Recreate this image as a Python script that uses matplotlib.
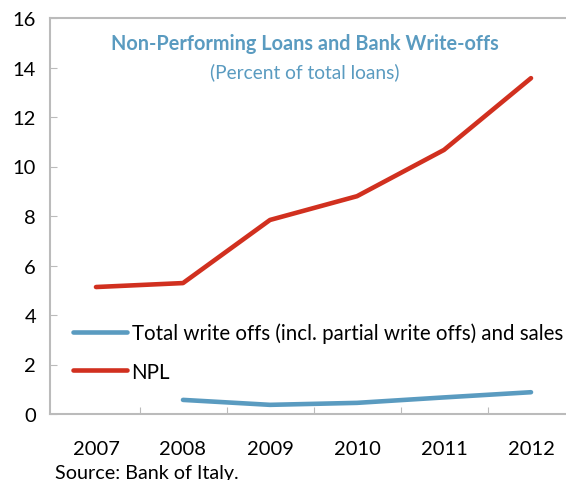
import matplotlib
matplotlib.use("Agg")
import matplotlib.pyplot as plt

years = ["2007", "2008", "2009", "2010", "2011", "2012"]
npl = [5.13, 5.29, 7.84, 8.8, 10.67, 13.57]
writeoff_years = ["2008", "2009", "2010", "2011", "2012"]
writeoffs = [0.57, 0.37, 0.45, 0.67, 0.88]

plt.rcParams['font.family'] = ['Lato', 'DejaVu Sans']

W, H = 566, 481
fig = plt.figure(figsize=(W/100, H/100), dpi=100)
left, right, top, bottom = 50, 566, 19, 415
spacing = 87.0
ax = fig.add_axes([left/W, 1 - bottom/H, (right-left)/W, (bottom-top)/H])

xi = list(range(len(years)))
wx = [years.index(y) for y in writeoff_years]
blue = "#5A9BC0"
red = "#D1301F"
ax.plot(wx, writeoffs, color=blue, lw=3.3, solid_capstyle='round',
        label="Total write offs (incl. partial write offs) and sales")
ax.plot(xi, npl, color=red, lw=3.3, solid_capstyle='round', label="NPL")

x0 = -0.5 - (96 - 50 - spacing/2) / spacing
ax.set_ylim(0, 16)
ax.set_yticks(range(0, 17, 2))
ax.set_xlim(x0, x0 + (right - left) / spacing)
ax.set_xticks([i + 0.5 for i in range(5)])
ax.set_xticklabels([])
ax.tick_params(axis='x', which='major', direction='in', length=5, color='#BBBBBB')
ax.set_xticks(xi, minor=True)
ax.set_xticklabels(years, minor=True, fontsize=14.5)
ax.tick_params(axis='x', which='minor', length=0, pad=19)
ax.tick_params(axis='y', direction='in', length=5, color='#BBBBBB', labelsize=14.5, pad=10)
for s in ['left', 'bottom', 'top']:
    ax.spines[s].set_color('#BBBBBB')
    ax.spines[s].set_linewidth(1.5)
ax.spines['right'].set_visible(False)

fig.text(305/W, 1 - 44/H, "Non-Performing Loans and Bank Write-offs", ha='center', va='center',
         fontsize=14.3, fontweight='bold', color="#5A9BC0")
fig.text(305/W, 1 - 72/H, "(Percent of total loans)", ha='center', va='center',
         fontsize=13.8, color="#5A9BC0")

leg_y = (bottom - 353) / (bottom - top)
leg = ax.legend(loc='center left', bbox_to_anchor=((73 - left) / (right - left), leg_y),
                frameon=False, fontsize=14.8, handlelength=2.65, handletextpad=0.2,
                labelspacing=0.9, borderaxespad=0, borderpad=0)

fig.text(55/W, 1 - 474/H, "Source: Bank of Italy.", ha='left', va='center', fontsize=14.2)

fig.savefig("out.png", dpi=100)
